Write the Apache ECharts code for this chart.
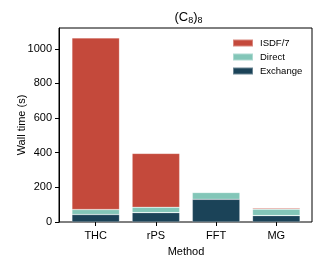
<!DOCTYPE html>
<html><head><meta charset="utf-8">
<script src="https://cdn.jsdelivr.net/npm/echarts@6/dist/echarts.min.js"></script>
<style>html,body{margin:0;padding:0;background:#fff}#c{width:322px;height:267px}</style>
</head><body><div id="c"></div>
<script>
const categories = ['THC', 'rPS', 'FFT', 'MG'];
const exchange = [43, 54, 131, 37];
const direct = [29, 31, 39, 37];
const isdf7 = [991, 311, 2, 6];
const seriesNames = ['ISDF/7', 'Direct', 'Exchange'];
const yMin = 0, yMax = 1120, yStep = 200;

const F = 'Liberation Sans, Arial, Helvetica, sans-serif';
const chart = echarts.init(document.getElementById('c'), null, {renderer: 'canvas'});
const barCommon = {type: 'bar', stack: 'all', xAxisIndex: 1, yAxisIndex: 1, barWidth: '79%',
  itemStyle: {borderColor: 'rgba(255,255,255,0.35)', borderWidth: 0.6}};
chart.setOption({
  animation: false,
  textStyle: {fontFamily: F},
  title: {
    text: '(C{s|8}){s|8}', left: 183.5, textAlign: 'center', top: 4,
    textStyle: {fontFamily: F, fontSize: 13, fontWeight: 'normal', color: '#000',
      rich: {s: {fontFamily: F, fontSize: 9, verticalAlign: 'bottom', padding: [7, 0, 0, 0], color: '#000'}}}
  },
  legend: {
    orient: 'vertical', left: 227, top: 33, itemWidth: 20, itemHeight: 7, itemGap: 4,
    data: seriesNames, icon: 'rect',
    textStyle: {fontFamily: F, fontSize: 9.5, color: '#000', lineHeight: 10, padding: [0, 0, 0, 2]}
  },
  grid: [
    {left: 59, top: 28, width: 253, height: 194, show: true, borderColor: '#000', borderWidth: 1, containLabel: false},
    {left: 65.6, top: 28, width: 240.8, height: 194, containLabel: false}
  ],
  xAxis: [
    {type: 'value', gridIndex: 0, min: 0, max: 1, show: false},
    {type: 'category', gridIndex: 1, data: categories, boundaryGap: true,
      axisLine: {show: false}, axisTick: {show: true, alignWithLabel: true, length: 4, lineStyle: {color: '#000', width: 1}},
      axisLabel: {color: '#000', fontSize: 11, margin: 8, fontFamily: F},
      name: 'Method', nameLocation: 'middle', nameGap: 24, nameMoveOverlap: false,
      nameTextStyle: {color: '#000', fontSize: 11, fontFamily: F}}
  ],
  yAxis: [
    {type: 'value', gridIndex: 0, min: yMin, max: yMax, interval: yStep,
      axisLine: {show: true, lineStyle: {color: '#000', width: 1}},
      axisTick: {show: true, length: 4, lineStyle: {color: '#000', width: 1}},
      axisLabel: {color: '#000', fontSize: 11, margin: 7, fontFamily: F,
        showMaxLabel: false, formatter: v => String(v)},
      splitLine: {show: false},
      name: 'Wall time (s)', nameLocation: 'middle', nameGap: 32, nameMoveOverlap: false,
      nameTextStyle: {color: '#000', fontSize: 11, fontFamily: F}},
    {type: 'value', gridIndex: 1, min: yMin, max: yMax, show: false, splitLine: {show: false}}
  ],
  series: [
    Object.assign({}, barCommon, {name: 'Exchange', data: exchange, itemStyle: Object.assign({}, barCommon.itemStyle, {color: '#1b4358'})}),
    Object.assign({}, barCommon, {name: 'Direct', data: direct, itemStyle: Object.assign({}, barCommon.itemStyle, {color: '#83c6b8'})}),
    Object.assign({}, barCommon, {name: 'ISDF/7', data: isdf7, itemStyle: Object.assign({}, barCommon.itemStyle, {color: '#c4493b'})})
  ]
});
</script></body></html>
